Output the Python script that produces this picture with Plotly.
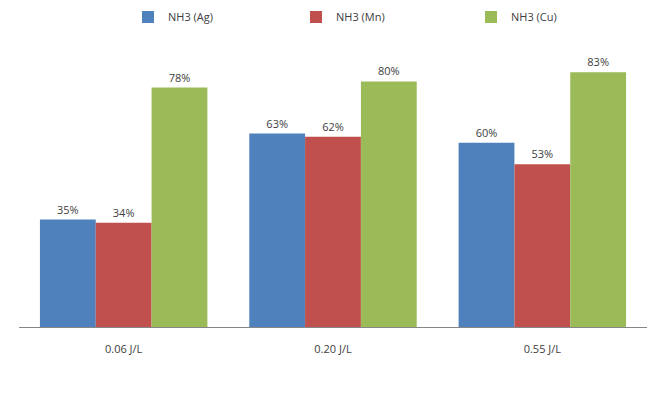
import plotly.graph_objects as go

categories = ["0.06 J/L", "0.20 J/L", "0.55 J/L"]
series_names = ["NH3 (Ag)", "NH3 (Mn)", "NH3 (Cu)"]
ag = [35, 63, 60]
mn = [34, 62, 53]
cu = [78, 80, 83]
colors = ["#4F81BD", "#C0504D", "#9BBB59"]

font = dict(family="Open Sans, Liberation Sans, sans-serif", size=11, color="#404040")

legend_ids = ["legend", "legend2", "legend3"]
legend_x_px = [128, 296, 471]

fig = go.Figure()
for name, vals, col, lid in zip(series_names, [ag, mn, cu], colors, legend_ids):
    fig.add_trace(go.Bar(
        x=categories, y=vals, name=name, legend=lid,
        marker=dict(color=col, line=dict(width=0)),
        text=[f"{v}%" for v in vals], textposition="outside",
        textfont=font, cliponaxis=False,
    ))

layout_legends = {}
for lid, px in zip(legend_ids, legend_x_px):
    layout_legends[lid] = dict(orientation="h", xref="container", x=px / 667, xanchor="left",
                               yref="container", y=1 - 17 / 404, yanchor="middle",
                               font=font, itemwidth=30, bgcolor="rgba(0,0,0,0)")

fig.update_layout(
    width=667, height=404,
    margin=dict(l=19, r=20, t=40, b=77, autoexpand=False),
    paper_bgcolor="white", plot_bgcolor="white",
    barmode="group", bargap=0.2, bargroupgap=0,
    font=font,
    showlegend=True,
    xaxis=dict(showline=True, linecolor="#868686", linewidth=1, ticks="",
               showgrid=False, zeroline=False, ticklabelstandoff=12, tickfont=font),
    yaxis=dict(visible=False, range=[0, 93.5], showgrid=False, zeroline=False),
    **layout_legends,
)

fig.write_html("out.html")
